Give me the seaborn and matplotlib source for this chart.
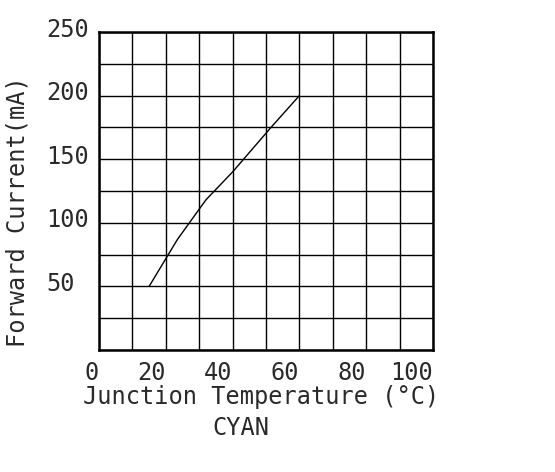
import matplotlib
matplotlib.use('Agg')
import matplotlib.pyplot as plt
from matplotlib.transforms import ScaledTranslation
import pandas as pd
import seaborn as sns

# values
junction_temp = [15, 23.5, 32, 40, 51.5, 60]
forward_current = [50, 87, 118, 140, 175, 200]
x_ticks = [0, 20, 40, 60, 80, 100]
y_ticks = [50, 100, 150, 200, 250]

df = pd.DataFrame({'Temp': junction_temp, 'Current': forward_current})

sns.set_style('white')
plt.rcParams['font.family'] = ['DejaVu Sans Mono']

txt = dict(fontsize=17, color='#2a2a2a')

fig = plt.figure(figsize=(5.55, 4.72), dpi=100)
ax = fig.add_axes([0.1784, 0.2585, 0.6018, 0.6737])

sns.lineplot(data=df, x='Temp', y='Current', ax=ax, color='black', linewidth=1.0)

ax.set_xlim(0, 100)
ax.set_ylim(0, 250)

ax.set_xticks(x_ticks)
ax.set_xticklabels([str(t) for t in x_ticks], ha='right', **txt)
ax.set_yticks(y_ticks)
ax.set_yticklabels([str(t) for t in y_ticks], ha='left', **txt)
# grid every 10 deg / 25 mA
ax.set_xticks(range(0, 101, 10), minor=True)
ax.set_yticks(range(0, 251, 25), minor=True)
ax.grid(which='both', color='black', linewidth=1.0)
ax.set_axisbelow(True)
ax.tick_params(which='both', length=0)
ax.tick_params(axis='x', pad=8)
ax.tick_params(axis='y', pad=38)

for lab in ax.get_yticklabels():
    lab.set_transform(lab.get_transform() + ScaledTranslation(0, 0.05, fig.dpi_scale_trans))
for lab in ax.get_xticklabels():
    lab.set_transform(lab.get_transform() + ScaledTranslation(0.0, 0, fig.dpi_scale_trans))

for s in ax.spines.values():
    s.set_visible(True)
    s.set_color('black')
    s.set_linewidth(1.8)

ax.set_xlabel('')
ax.set_ylabel('')

fig.text(83 / 555, 1 - 397 / 472, 'Junction Temperature (°C)',
         ha='left', va='center', **txt)
fig.text(241 / 555, 1 - 428 / 472, 'CYAN', ha='center', va='center', **txt)
fig.text(18 / 555, 1 - 347 / 472, 'Forward Current(mA)', rotation=90,
         ha='center', va='bottom', **txt)

fig.savefig('out.png', dpi=100)
